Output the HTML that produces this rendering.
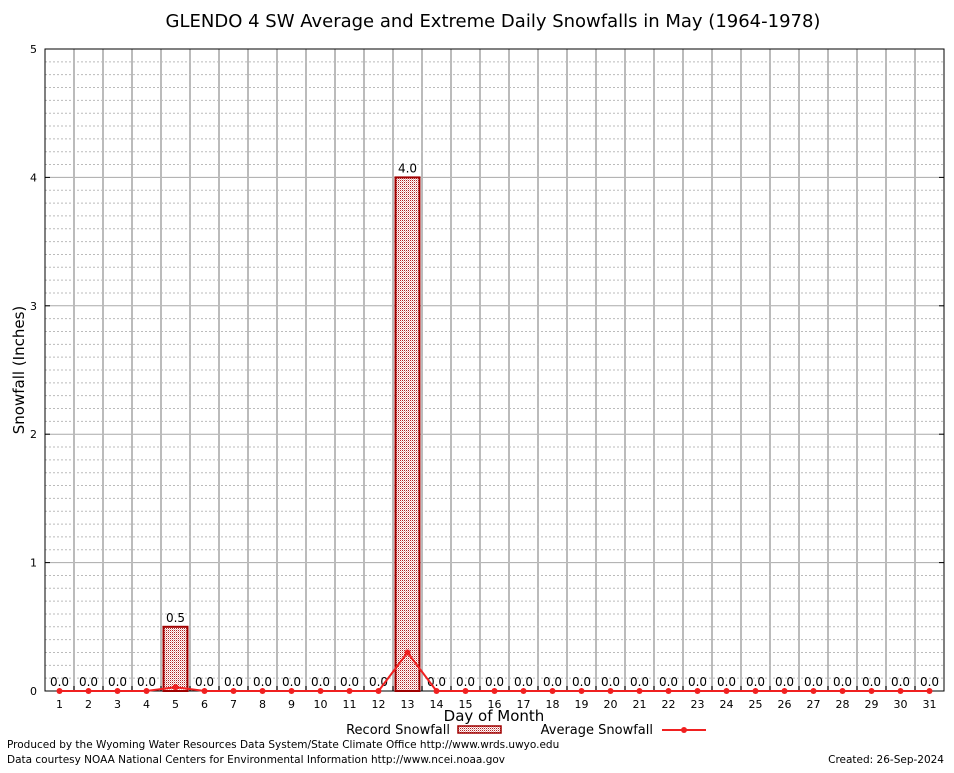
<!DOCTYPE html>
<html><head><meta charset="utf-8"><style>
body{margin:0;background:#fff;}
svg text{font-family:"DejaVu Sans","Liberation Sans",sans-serif;}
</style></head><body>
<svg id="c" width="954" height="768" xmlns="http://www.w3.org/2000/svg">
<defs><pattern id="hatch" width="2" height="2" patternUnits="userSpaceOnUse"><rect width="2" height="2" fill="#fff"/><rect width="1" height="1" fill="#b02020"/><rect x="1" y="1" width="1" height="1" fill="#e8b0b0"/></pattern></defs>
<text x="493" y="27" font-size="18" text-anchor="middle">GLENDO 4 SW Average and Extreme Daily Snowfalls in May (1964-1978)</text>
<g id="grid"></g><g id="marks"></g>
<text transform="translate(24,370) rotate(-90)" font-size="15" text-anchor="middle">Snowfall (Inches)</text>
<text x="494" y="721" font-size="15" text-anchor="middle">Day of Month</text>
<g>
<text x="450" y="734" font-size="13" text-anchor="end">Record Snowfall</text>
<rect x="458" y="726" width="43" height="7" fill="url(#hatch)" stroke="#a00000" stroke-width="1.5"/>
<text x="653" y="734" font-size="13" text-anchor="end">Average Snowfall</text>
<line x1="662" y1="730" x2="706" y2="730" stroke="#f02020" stroke-width="2"/>
<circle cx="684" cy="730" r="3" fill="#f02020"/>
</g>
<text x="7" y="748" font-size="10.5">Produced by the Wyoming Water Resources Data System/State Climate Office http://www.wrds.uwyo.edu</text>
<text x="7" y="763" font-size="10.5">Data courtesy NOAA National Centers for Environmental Information http://www.ncei.noaa.gov</text>
<text x="944" y="763" font-size="10.5" text-anchor="end">Created:  26-Sep-2024</text>
</svg>
<script>
const days=[1,2,3,4,5,6,7,8,9,10,11,12,13,14,15,16,17,18,19,20,21,22,23,24,25,26,27,28,29,30,31];
const recordValues=[0,0,0,0,0.5,0,0,0,0,0,0,0,4.0,0,0,0,0,0,0,0,0,0,0,0,0,0,0,0,0,0,0];
const averageValues=[0,0,0,0,0.03,0,0,0,0,0,0,0,0.3,0,0,0,0,0,0,0,0,0,0,0,0,0,0,0,0,0,0];
const yTicks=[0,1,2,3,4,5];
const L=45,R=944,T=49,B=691,yMax=5;
const dw=(R-L)/days.length;
const xc=d=>L+(d-0.5)*dw;
const y=v=>B-(v/yMax)*(B-T);
const NS="http://www.w3.org/2000/svg";
const grid=document.getElementById('grid'),marks=document.getElementById('marks');
function mk(p,tag,a){const e=document.createElementNS(NS,tag);for(const k in a)e.setAttribute(k,a[k]);p.appendChild(e);return e;}
for(let v=0.1;v<yMax-1e-6;v+=0.1){if(Math.abs(v-Math.round(v))<1e-6)continue;
const l=mk(grid,'line',{x1:L,x2:R,y1:y(v),y2:y(v),stroke:'#bbb','stroke-dasharray':'2,2','stroke-width':1});

}
yTicks.forEach(t=>{if(t>0&&t<yMax){const l=mk(grid,'line',{x1:L,x2:R,y1:y(t),y2:y(t),stroke:'#aaa','stroke-width':1});

}
const tx=mk(grid,'text',{x:L-8,y:y(t)+4,'font-size':11,'text-anchor':'end'});tx.textContent=t;


mk(grid,'line',{x1:L,x2:L+5,y1:y(t),y2:y(t),stroke:'#000'});mk(grid,'line',{x1:R-5,x2:R,y1:y(t),y2:y(t),stroke:'#000'});});
for(let i=1;i<days.length;i++){const x=L+i*dw;
const l=mk(grid,'line',{x1:x,x2:x,y1:T,y2:B,stroke:'#bbb','stroke-width':2});


mk(grid,'line',{x1:x,x2:x,y1:B,y2:B-5,stroke:'#000'});}
days.forEach(d=>{const t=mk(grid,'text',{x:xc(d),y:B+17,'font-size':11,'text-anchor':'middle','font-family':'Liberation Serif,serif'});t.textContent=d;

});
const fr=mk(grid,'rect',{x:L,y:T,width:R-L,height:B-T,fill:'none',stroke:'#000'});


days.forEach((d,i)=>{const v=recordValues[i];
if(v>0){const b=mk(marks,'rect',{x:xc(d)-12,y:y(v),width:24,height:B-y(v),fill:'url(#hatch)',stroke:'#a00000','stroke-width':2});

}
const t=mk(marks,'text',{x:xc(d),y:y(v)-5,'font-size':12,'text-anchor':'middle'});t.textContent=v.toFixed(1);

});
const pts=days.map((d,i)=>xc(d)+','+y(averageValues[i])).join(' ');
const pl=mk(marks,'polyline',{points:pts,fill:'none',stroke:'#f02020','stroke-width':2});


days.forEach((d,i)=>{const c=mk(marks,'circle',{cx:xc(d),cy:y(averageValues[i]),r:3,fill:'#f02020'});

});
</script>
</body></html>
